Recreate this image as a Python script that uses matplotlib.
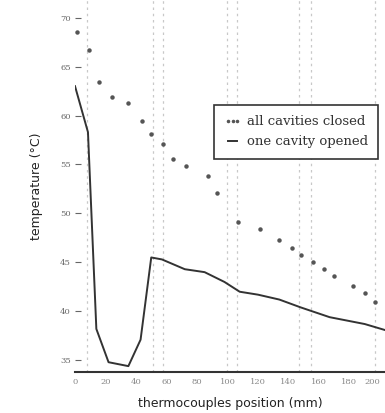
import matplotlib.pyplot as plt
import numpy as np

# all cavities closed (dotted series)
pos_closed = [1, 9, 16, 24, 35, 44, 50, 58, 64, 73, 87, 93, 107, 121, 134, 142, 148, 156, 163, 170, 182, 190, 197]
temp_closed = [68.5, 66.7, 63.4, 61.9, 61.3, 59.4, 58.1, 57.1, 55.6, 54.8, 53.8, 52.1, 49.1, 48.4, 47.3, 46.5, 45.8, 45.0, 44.3, 43.6, 42.6, 41.9, 40.9]

# one cavity opened (solid series)
pos_open = [0, 8.5, 14, 22, 35, 43, 50, 57, 72, 85, 98, 108, 120, 134, 148, 167, 190, 203]
temp_open = [63.0, 58.3, 38.2, 34.8, 34.4, 37.1, 45.5, 45.3, 44.3, 44.0, 43.0, 42.0, 41.7, 41.2, 40.4, 39.4, 38.7, 38.1]

# faint vertical guide lines in the scan
guide_x = [8, 51, 58, 100, 106, 147, 155, 197]

xticks = [0, 20, 40, 60, 80, 100, 120, 140, 160, 180, 200]
yticks = [35, 40, 45, 50, 55, 60, 65, 70]

plt.rcParams['font.family'] = ['DejaVu Serif']

fig = plt.figure(figsize=(3.85, 4.13), dpi=100)
ax = fig.add_axes([75 / 385, 41 / 413, 310 / 385, 372 / 413])

for gx in guide_x:
    ax.axvline(gx, color='#c8c8c8', lw=0.9, ls=(0, (2, 3)), zorder=0)

ax.plot(pos_closed, temp_closed, ls='none', marker='o', ms=2.2, color='#555555',
        label='all cavities closed')
ax.plot(pos_open, temp_open, color='#333333', lw=1.4, label='one cavity opened')

ax.set_xlim(0, 203.3)
ax.set_ylim(33.8, 71.8)
ax.set_xticks(xticks)
ax.set_yticks(yticks)
ax.tick_params(axis='x', length=0, labelsize=6, colors='#888888', pad=4)
ax.tick_params(axis='y', direction='in', length=4, labelsize=6, colors='#666666', pad=3)
ax.get_xticklabels()[-1].set_horizontalalignment('right')
for s in ['top', 'right', 'left']:
    ax.spines[s].set_visible(False)
ax.spines['bottom'].set_linewidth(1.5)
ax.spines['bottom'].set_color('#333333')

ax.set_xlabel('thermocouples position (mm)', fontsize=9, color='#222222', labelpad=8,
              family='DejaVu Sans')
ax.set_ylabel('temperature (°C)', fontsize=9, color='#222222', labelpad=12,
              family='DejaVu Sans')

leg = ax.legend(loc='upper left', bbox_to_anchor=(132 / 310, 1 - 98 / 372),
                fontsize=9.5, frameon=True, fancybox=False, handlelength=1.3,
                handletextpad=0.4, borderpad=0.8, labelspacing=0.55, numpoints=3,
                markerscale=0.7)
leg.get_frame().set_edgecolor('#333333')
leg.get_frame().set_linewidth(1.2)
leg.get_frame().set_alpha(1)
for t in leg.get_texts():
    t.set_color('#333333')

fig.savefig('out.png', dpi=100)
